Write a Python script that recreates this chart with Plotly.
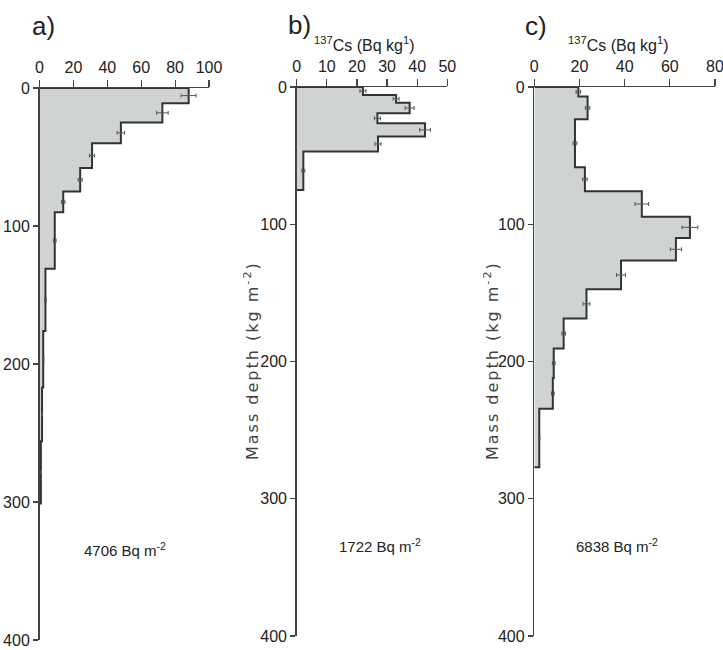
import plotly.graph_objects as go

# ---------------- data ----------------
# Panel a: layer boundaries (kg m-2) and 137Cs activity (Bq kg-1)
a_bounds = [0, 11, 25, 40, 58, 75, 90, 131, 176, 217, 256, 301]
a_values = [88, 72.5, 48, 31, 24, 14, 9, 3.5, 2.2, 1.5, 0.8]
a_err = [4.4, 3.4, 2.2, 1.5, 1.2, 1.0, 0.8, 0.5, 0.4, 0.3, 0.3]

# Panel b
b_bounds = [0, 5.8, 11.4, 19.2, 26.5, 36, 47, 75]
b_values = [22, 33, 37.5, 26.8, 42.6, 27, 2.2]
b_err = [1.0, 1.0, 1.5, 1.0, 1.8, 1.0, 0.5]

# Panel c
c_bounds = [0, 7, 23.5, 58.5, 76, 94.5, 110, 126.5, 147.4, 168.6, 190.6, 212, 234.5, 277]
c_values = [19.5, 23.6, 18, 22.4, 47.6, 68.9, 62.7, 38.4, 23.1, 13, 8.6, 8.2, 2.2]
c_err = [1.0, 1.0, 0.8, 1.0, 3.0, 3.5, 2.5, 2.0, 1.5, 0.8, 0.6, 0.6, 0.3]

inventories = ["4706 Bq m<sup>-2</sup>", "1722 Bq m<sup>-2</sup>", "6838 Bq m<sup>-2</sup>"]
panel_labels = ["a)", "b)", "c)"]
x_ranges = [[0, 100], [0, 50], [0, 80]]
x_dticks = [20, 10, 20]
y_ticks = [0, 100, 200, 300, 400]

W, H = 723, 650
FILL = "rgb(208,211,211)"
LINE = "#333333"
NARROW = "Liberation Sans Narrow, Arial Narrow, Liberation Sans, Arial"
WIDE = "DejaVu Sans, Liberation Sans, Arial"


def step_xy(bounds, vals):
    xs, ys = [0], [bounds[0]]
    for i, v in enumerate(vals):
        xs += [v, v]
        ys += [bounds[i], bounds[i + 1]]
    xs.append(0)
    ys.append(bounds[-1])
    return xs, ys


def mids(bounds):
    return [(bounds[i] + bounds[i + 1]) / 2 for i in range(len(bounds) - 1)]


fig = go.Figure()
panels = [(a_bounds, a_values, a_err), (b_bounds, b_values, b_err), (c_bounds, c_values, c_err)]
for k, (bd, vals, err) in enumerate(panels):
    xa = "x" if k == 0 else f"x{k+1}"
    ya = "y" if k == 0 else f"y{k+1}"
    xs, ys = step_xy(bd, vals)
    fig.add_trace(go.Scatter(x=xs, y=ys, mode="lines", fill="toself", fillcolor=FILL,
                             line=dict(color=LINE, width=2), xaxis=xa, yaxis=ya,
                             showlegend=False, hoverinfo="skip"))
    fig.add_trace(go.Scatter(x=vals, y=mids(bd), mode="markers", marker=dict(size=1, color="#555"),
                             error_x=dict(type="data", array=err, color="#555", thickness=1, width=2),
                             xaxis=xa, yaxis=ya, showlegend=False))

# pixel geometry of each panel: (x0, x1, ytop, ybottom)
geom = [(39.5, 209, 88, 640), (296.7, 447.3, 87, 636), (534.3, 715, 87, 636)]

layout = dict(width=W, height=H, margin=dict(l=0, r=0, t=0, b=0, autoexpand=False),
              paper_bgcolor="white", plot_bgcolor="white", showlegend=False)
for k, (x0, x1, yt, yb) in enumerate(geom):
    sx = "" if k == 0 else str(k + 1)
    layout[f"xaxis{sx}"] = dict(domain=[x0 / W, x1 / W], range=x_ranges[k], side="top",
                                anchor=f"y{sx}", dtick=x_dticks[k], tick0=0, automargin=False,
                                ticklabeloverflow="allow",
                                showline=True, linecolor="#444", linewidth=1.5,
                                ticks="outside", ticklen=7, tickcolor="#444", tickwidth=1.2,
                                showgrid=False, zeroline=False,
                                tickfont=dict(family=NARROW, size=16, color="#222"))
    layout[f"yaxis{sx}"] = dict(domain=[1 - yb / H, 1 - yt / H], range=[400, 0],
                                anchor=f"x{sx}", tickvals=y_ticks, automargin=False,
                                ticklabeloverflow="allow",
                                showline=True, linecolor="#444", linewidth=1.5,
                                ticks="outside", ticklen=5, tickcolor="#444", tickwidth=1.2,
                                showgrid=False, zeroline=False,
                                tickfont=dict(family=NARROW, size=16, color="#222"))
fig.update_layout(**layout)


def note(px, py, text, font, angle=0):
    return dict(x=px / W, y=1 - py / H, xref="paper", yref="paper", text=text, showarrow=False,
                xanchor="center", yanchor="middle", textangle=angle, font=font)


ann = []
label_pos = [(43, 26), (299, 25), (536, 26)]
for (px, py), t in zip(label_pos, panel_labels):
    ann.append(note(px, py, t, dict(family=NARROW, size=26, color="#222")))
inv_pos = [(125, 549), (380, 545), (617, 545)]
for (px, py), t in zip(inv_pos, inventories):
    ann.append(note(px, py, t, dict(family=NARROW, size=15, color="#222")))
for px in (364, 618):
    ann.append(note(px, 44, "<sup>137</sup>Cs (Bq kg<sup>1</sup>)",
                    dict(family=NARROW, size=16, color="#222")))
for px in (251, 491):
    ann.append(note(px, 361, '<span style="letter-spacing:2px">Mass depth (kg m<sup>-2</sup>)</span>',
                    dict(family=WIDE, size=16, color="#444"), angle=-90))
fig.update_layout(annotations=ann)

fig.write_html("out.html", config={"displayModeBar": False, "staticPlot": True},
               post_script="document.body.style.margin='0';document.body.style.overflow='hidden';")
